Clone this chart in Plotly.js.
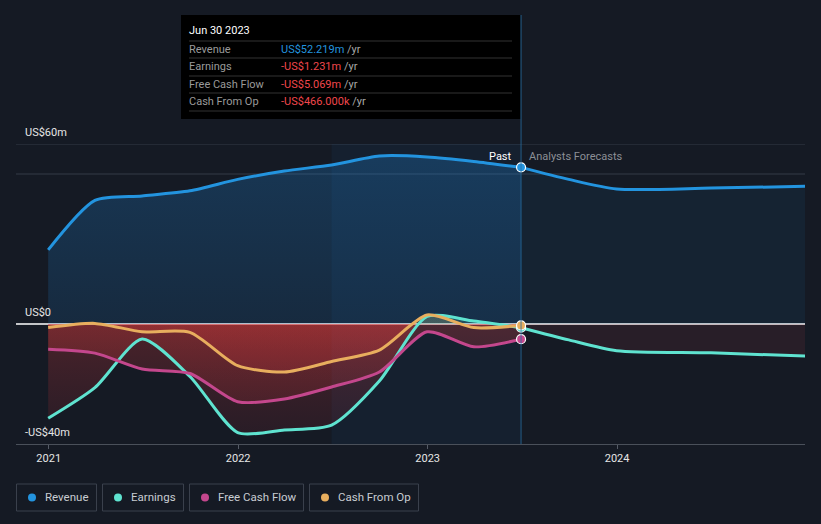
<!DOCTYPE html>
<html>
<head>
<meta charset="utf-8">
<script src="https://cdn.plot.ly/plotly-3.0.1.min.js"></script>
<style>
html,body{margin:0;padding:0;background:#151a24;}
#chart{width:821px;height:524px;}
</style>
</head>
<body>
<div id="chart"></div>
<script>
// ---- data ----
const pastDates = ['2020-12-31','2021-03-31','2021-06-30','2021-09-30','2021-12-31','2022-03-31','2022-06-30','2022-09-30','2022-12-31','2023-03-31','2023-06-30'];
const revenuePast  = [24.7, 41.2, 42.7, 44.4, 48.2, 51.0, 53.0, 56.0, 55.7, 54.2, 52.219];
const earningsPast = [-31.4, -21.2, -5.0, -17.5, -36.2, -35.3, -33.7, -19.0, 2.5, 1.0, -1.231];
const fcfPast      = [-8.4, -9.7, -15.0, -16.5, -25.9, -25.0, -21.0, -16.0, -2.6, -7.6, -5.069];
const cfoPast      = [-1.2, 0.2, -2.6, -2.8, -13.9, -16.0, -12.5, -8.7, 3.0, -1.2, -0.466];

const fcDates = ['2023-06-30','2023-09-30','2023-12-31','2024-06-30','2024-12-31'];
const revenueFc  = [52.219, 48.2, 45.0, 45.3, 45.9];
const earningsFc = [-1.231, -5.3, -8.9, -9.6, -10.7];

const seriesNames = ['Revenue','Earnings','Free Cash Flow','Cash From Op'];
const tooltipDate = 'Jun 30 2023';
const tooltipValues = ['US$52.219m','-US$1.231m','-US$5.069m','-US$466.000k'];
const xTickVals = ['2021-01-01','2022-01-01','2023-01-01','2024-01-01'];
const xTickText = ['2021','2022','2023','2024'];
const yLabels = [{v:60,t:'US$60m'},{v:0,t:'US$0'},{v:-40,t:'-US$40m'}];
const gridVals = [60,50];
const bandStart = '2022-06-30', bandEnd = '2023-06-30';

// ---- styling ----
const C = {rev:'#2394df', earn:'#5fe3d0', fcf:'#c4478d', cfo:'#e8ae5e'};
const BG = '#151a24';
const W = 821, H = 524, ML = 16, MR = 16, MT = 144, MB = 80;
const PW = W-ML-MR, PH = H-MT-MB;
const px = x => (x-ML)/PW;
const py = y => (H-MB-y)/PH;
const SM = 0.7;

function negGrad(pos){
  return {type:'vertical', start:-40, stop:60,
    colorscale:[[0,'rgba(190,45,55,0.10)'],[0.399,'rgba(225,60,60,0.27)'],[0.4,pos],[1,pos]]};
}
const spl = {width:0,shape:'spline',smoothing:SM};

const traces = [];
// fills
traces.push({x:pastDates,y:revenuePast,type:'scatter',mode:'lines',line:spl,
  fill:'tozeroy',fillgradient:{type:'vertical',start:0,stop:60,colorscale:[[0,'rgba(33,150,243,0.13)'],[1,'rgba(33,150,243,0.24)']]},hoverinfo:'skip',showlegend:false});
traces.push({x:fcDates,y:revenueFc,type:'scatter',mode:'lines',line:spl,
  fill:'tozeroy',fillcolor:'rgba(33,150,243,0.07)',hoverinfo:'skip',showlegend:false});
traces.push({x:fcDates,y:earningsFc,type:'scatter',mode:'lines',line:spl,
  fill:'tozeroy',fillcolor:'rgba(200,60,70,0.11)',hoverinfo:'skip',showlegend:false});
traces.push({x:pastDates,y:earningsPast,type:'scatter',mode:'lines',line:spl,
  fill:'tozeroy',fillgradient:negGrad('rgba(95,227,208,0.16)'),hoverinfo:'skip',showlegend:false});
traces.push({x:pastDates,y:fcfPast,type:'scatter',mode:'lines',line:spl,
  fill:'tozeroy',fillgradient:negGrad('rgba(196,71,141,0.16)'),hoverinfo:'skip',showlegend:false});
traces.push({x:pastDates,y:cfoPast,type:'scatter',mode:'lines',line:spl,
  fill:'tozeroy',fillgradient:negGrad('rgba(232,174,94,0.16)'),hoverinfo:'skip',showlegend:false});
// lines
const lw = 3;
const ln = c => ({color:c,width:lw,shape:'spline',smoothing:SM});
traces.push({x:fcDates,y:earningsFc,type:'scatter',mode:'lines',line:ln(C.earn),hoverinfo:'skip',showlegend:false});
traces.push({x:fcDates,y:revenueFc,type:'scatter',mode:'lines',line:ln(C.rev),hoverinfo:'skip',showlegend:false});
traces.push({x:pastDates,y:earningsPast,type:'scatter',mode:'lines',line:ln(C.earn),hoverinfo:'skip',showlegend:false});
traces.push({x:pastDates,y:fcfPast,type:'scatter',mode:'lines',line:ln(C.fcf),hoverinfo:'skip',showlegend:false});
traces.push({x:pastDates,y:cfoPast,type:'scatter',mode:'lines',line:ln(C.cfo),hoverinfo:'skip',showlegend:false});
traces.push({x:pastDates,y:revenuePast,type:'scatter',mode:'lines',line:ln(C.rev),hoverinfo:'skip',showlegend:false});
// end markers
const last = a => a[a.length-1];
const lastDate = last(pastDates);
traces.push({x:[lastDate,lastDate,lastDate,lastDate],
  y:[last(earningsPast),last(fcfPast),last(cfoPast),last(revenuePast)],
  type:'scatter',mode:'markers',
  marker:{size:9,color:[C.earn,C.fcf,C.cfo,C.rev],line:{color:'#ffffff',width:1.2}},
  hoverinfo:'skip',showlegend:false});

const shapes = [];
const annotations = [];
// gridlines
gridVals.forEach(v=>shapes.push({type:'line',xref:'paper',yref:'y',x0:0,x1:1,y0:v,y1:v,line:{color:'#343a46',width:1},layer:'below'}));
// highlight band
shapes.push({type:'rect',xref:'x',yref:'paper',x0:bandStart,x1:bandEnd,y0:0,y1:1,
  fillcolor:'rgba(30,120,200,0.07)',line:{width:0},layer:'below'});
// zero line (below traces so fills tint it)
shapes.push({type:'line',xref:'paper',yref:'y',x0:0,x1:1,y0:0,y1:0,line:{color:'#ffffff',width:1.5},layer:'below'});
// tooltip box
shapes.push({type:'rect',xref:'paper',yref:'paper',x0:px(181),x1:px(520.5),y0:py(119),y1:py(15),
  fillcolor:'#000000',line:{width:0},layer:'above'});
// vertical line
shapes.push({type:'line',xref:'x',yref:'paper',x0:bandEnd,x1:bandEnd,y0:0,y1:py(15),
  line:{color:'rgba(40,110,160,0.8)',width:1},layer:'above'});
// tooltip separators
[41,58,76,93,111].forEach(y=>shapes.push({type:'line',xref:'paper',yref:'paper',x0:px(189),x1:px(512),y0:py(y),y1:py(y),
  line:{color:'#333333',width:1},layer:'above'}));
annotations.push({xref:'paper',yref:'paper',x:px(187),y:py(31),text:tooltipDate,showarrow:false,xanchor:'left',yanchor:'middle',
  font:{family:'Roboto',size:11,color:'#ffffff'}});
const valColors = [C.rev,'#f0474c','#f0474c','#f0474c'];
[49,66.5,84,101].forEach((y,i)=>{
  annotations.push({xref:'paper',yref:'paper',x:px(187),y:py(y),text:seriesNames[i],showarrow:false,xanchor:'left',yanchor:'middle',
    font:{family:'Roboto',size:11,color:'#9a9a9a'}});
  annotations.push({xref:'paper',yref:'paper',x:px(279),y:py(y),
    text:'<span style="color:'+valColors[i]+'">'+tooltipValues[i]+'</span> /yr',showarrow:false,xanchor:'left',yanchor:'middle',
    font:{family:'Roboto',size:11,color:'#a8a8a8'}});
});
// y labels
yLabels.forEach(l=>annotations.push({xref:'paper',yref:'y',x:px(23),y:l.v,yshift:12,text:l.t,showarrow:false,xanchor:'left',yanchor:'middle',
  font:{family:'Roboto',size:11,color:'#e6e6e6'}}));
// past / forecast
annotations.push({xref:'x',yref:'paper',x:bandEnd,xshift:-7,y:py(156),text:'Past',showarrow:false,xanchor:'right',yanchor:'middle',
  font:{family:'Roboto',size:11,color:'#ffffff'}});
annotations.push({xref:'x',yref:'paper',x:bandEnd,xshift:6,y:py(156),text:'Analysts Forecasts',showarrow:false,xanchor:'left',yanchor:'middle',
  font:{family:'Roboto',size:11,color:'#8c8f96'}});
// legend
const boxes = [[16,97],[102,184],[189,304],[309,419]];
const legColors = [C.rev,C.earn,C.fcf,C.cfo];
boxes.forEach((b,i)=>{
  shapes.push({type:'rect',xref:'paper',yref:'paper',x0:px(b[0]+0.5),x1:px(b[1]-0.5),y0:py(511),y1:py(484),
    line:{color:'#3a404c',width:1},fillcolor:'rgba(0,0,0,0)',layer:'above'});
  const cx=b[0]+16, cy=497.5, r=4;
  shapes.push({type:'circle',xref:'paper',yref:'paper',x0:px(cx-r),x1:px(cx+r),y0:py(cy+r),y1:py(cy-r),
    fillcolor:legColors[i],line:{width:0},layer:'above'});
  annotations.push({xref:'paper',yref:'paper',x:px(b[0]+27),y:py(497.5),text:seriesNames[i],showarrow:false,xanchor:'left',yanchor:'middle',
    font:{family:'Roboto',size:11.5,color:'#c8ccd2'}});
});

const layout = {
  width:W,height:H,margin:{l:ML,r:MR,t:MT,b:MB},
  paper_bgcolor:BG,plot_bgcolor:BG,showlegend:false,
  xaxis:{type:'date',range:['2020-10-30','2024-12-28'],tickvals:xTickVals,ticktext:xTickText,
    ticks:'outside',ticklen:4,tickcolor:'#555b66',showline:true,linecolor:'#4a505a',linewidth:1,showgrid:false,zeroline:false,
    tickfont:{family:'Roboto',size:11,color:'#e6e6e6'},fixedrange:true},
  yaxis:{range:[-40,60],showticklabels:false,showgrid:false,zeroline:false,showline:false,ticks:'',fixedrange:true},
  shapes:shapes,annotations:annotations,hovermode:false
};
Plotly.newPlot('chart',traces,layout,{displayModeBar:false,staticPlot:true});
</script>
</body>
</html>
